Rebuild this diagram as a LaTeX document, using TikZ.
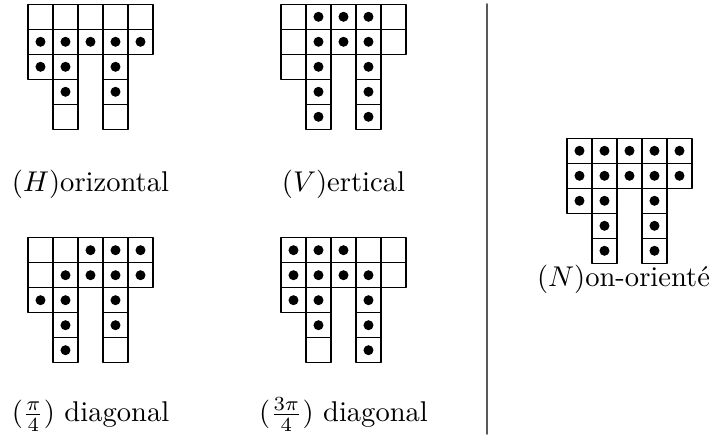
\documentclass[tikz,border=0pt]{standalone}
\usepackage{amssymb}
\usepackage{tikz}
\usetikzlibrary{positioning}
\definecolor{sepgray}{rgb}{0.35, 0.35, 0.35}

\begin{document}
\begin{tikzpicture}[line cap=round,line join=round,x=8.75pt,y=8.75pt]
\useasboundingbox (0,0) rectangle (28.56,-17.44);
\foreach \gx/\gy in {1.12/-0.172,11.24/-0.172,1.12/-9.508,11.24/-9.508,22.68/-5.532}
\foreach \c/\r in {0/0,1/0,2/0,3/0,4/0,0/1,1/1,2/1,3/1,4/1,0/2,1/2,3/2,1/3,3/3,1/4,3/4}
\draw[shift={(\gx,\gy)},color=black] (\c,-\r) rectangle ++(1,-1);
\foreach \c/\r in {0/1,1/1,2/1,3/1,4/1,0/2,1/2,3/2,1/3,3/3}
\fill[shift={(1.12,-0.172)}] (\c+0.5,-\r-0.5) circle (0.2);
\foreach \c/\r in {1/0,2/0,3/0,1/1,2/1,3/1,1/2,3/2,1/3,3/3,1/4,3/4}
\fill[shift={(11.24,-0.172)}] (\c+0.5,-\r-0.5) circle (0.2);
\foreach \c/\r in {2/0,3/0,4/0,1/1,2/1,3/1,4/1,0/2,1/2,3/2,1/3,3/3,1/4}
\fill[shift={(1.12,-9.508)}] (\c+0.5,-\r-0.5) circle (0.2);
\foreach \c/\r in {0/0,1/0,2/0,0/1,1/1,2/1,3/1,0/2,1/2,3/2,1/3,3/3,3/4}
\fill[shift={(11.24,-9.508)}] (\c+0.5,-\r-0.5) circle (0.2);
\foreach \c/\r in {0/0,1/0,2/0,3/0,4/0,0/1,1/1,2/1,3/1,4/1,0/2,1/2,3/2,1/3,3/3,1/4,3/4}
\fill[shift={(22.68,-5.532)}] (\c+0.5,-\r-0.5) circle (0.2);
\draw (3.62,-7.668) node[anchor=base] (labH) {$(H)$orizontal};
\draw (13.74,-7.668) node[anchor=base] (labV) {$(V)$ertical};
\draw (3.62,-16.88) node[anchor=base] (labP) {$(\frac{\pi}{4})$ diagonal};
\draw (13.74,-16.88) node[anchor=base] (labQ) {$(\frac{3\pi}{4})$ diagonal};
\draw (24.94,-11.456) node[anchor=base] (labN) {$(N)$on-orienté};
\draw [color=sepgray,line width=0.6pt] (19.47,-0.16) -- (19.47,-17.36);
\end{tikzpicture}
\end{document}
